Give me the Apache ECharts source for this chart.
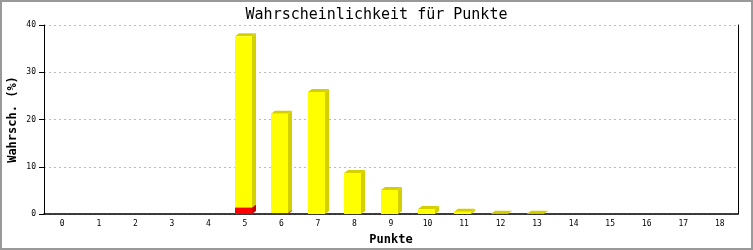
<!DOCTYPE html>
<html>
<head>
<meta charset="utf-8">
<script src="https://cdn.jsdelivr.net/npm/echarts@6/dist/echarts.min.js"></script>
<style>
html,body{margin:0;padding:0;background:#fff;}
#c{width:753px;height:250px;}
</style>
</head>
<body>
<div id="c"></div>
<script>
var categories = ['0','1','2','3','4','5','6','7','8','9','10','11','12','13','14','15','16','17','18'];
var redValues    = [0,0,0,0,0,1.4,0.2,0,0,0,0,0,0,0,0,0,0,0,0];
var yellowValues = [0,0,0,0,0,36.2,21.0,25.8,8.7,5.1,1.05,0.45,0.05,0.05,0,0,0,0,0];
var yTicks = [0,10,20,30,40];

var redData = categories.map(function(c,i){ return [i, 0, redValues[i]]; });
var yellowData = categories.map(function(c,i){ return [i, redValues[i], redValues[i]+yellowValues[i]]; });

function makeRender(front, dark){
  return function(params, api){
    var v0 = api.value(1), v1 = api.value(2);
    if (!(v1 > v0)) return null;
    var cat = api.value(0);
    var pTop = api.coord([cat, v1]);
    var pBot = api.coord([cat, v0]);
    var bw = 17, dx = 4, dy = 3;
    var x0 = Math.round(pTop[0] - 10), x1 = x0 + bw;
    var yT = pTop[1], yB = pBot[1];
    return {
      type: 'group',
      children: [
        {type:'polygon', shape:{points:[[x1,yT],[x1+dx,yT-dy],[x1+dx,yB-dy],[x1,yB]]}, style:{fill:dark}},
        {type:'polygon', shape:{points:[[x0,yT],[x0+dx,yT-dy],[x1+dx,yT-dy],[x1,yT]]}, style:{fill:dark}},
        {type:'rect', shape:{x:x0, y:yT, width:bw, height:Math.max(yB-yT,0)}, style:{fill:front}}
      ]
    };
  };
}

var chart = echarts.init(document.getElementById('c'), null, {renderer:'canvas'});
var mono = 'DejaVu Sans Mono';
chart.setOption({
  animation: false,
  backgroundColor: '#fff',
  title: {
    text: 'Wahrscheinlichkeit für Punkte',
    left: 'center', top: 3,
    textStyle: {fontFamily: mono, fontSize: 15, fontWeight: 'normal', color: '#000'}
  },
  grid: {left: 44, right: 15, top: 25, bottom: 36, outerBoundsMode: 'none', containLabel: false},
  xAxis: {
    type: 'category', data: categories,
    name: 'Punkte', nameLocation: 'middle', nameGap: 20,
    nameTextStyle: {fontFamily: mono, fontSize: 12, fontWeight: 'bold', color: '#000'},
    axisLine: {lineStyle: {color: '#000', width: 1.5}},
    axisTick: {show: false},
    axisLabel: {fontFamily: mono, fontSize: 8, color: '#000', margin: 6, interval: 0}
  },
  yAxis: [{
    type: 'value', min: yTicks[0], max: yTicks[yTicks.length-1], interval: 10,
    name: 'Wahrsch. (%)', nameLocation: 'middle', nameGap: 25, nameMoveOverlap: false,
    nameTextStyle: {fontFamily: mono, fontSize: 12, fontWeight: 'bold', color: '#000'},
    axisLine: {show: true, lineStyle: {color: '#000', width: 1}},
    axisTick: {show: true, length: 5, lineStyle: {color: '#000'}},
    axisLabel: {fontFamily: mono, fontSize: 8, color: '#000', margin: 8},
    splitLine: {show: true, lineStyle: {color: '#bbbbbb', type: [2,3], width: 1}}
  },{
    type: 'value', position: 'right', min: 0, max: 40, interval: 10,
    axisLine: {show: true, lineStyle: {color: '#000', width: 1}},
    axisTick: {show: false}, axisLabel: {show: false}, splitLine: {show: false}
  }],
  graphic: [{
    type: 'rect', shape: {x: 1, y: 1, width: 751, height: 248},
    style: {fill: 'none', stroke: '#999', lineWidth: 2}, silent: true
  }],
  series: [
    {type: 'custom', renderItem: makeRender('#ff0000', '#cc0000'), data: redData, encode:{x:0, y:[1,2]}},
    {type: 'custom', renderItem: makeRender('#ffff00', '#d4d000'), data: yellowData, encode:{x:0, y:[1,2]}}
  ]
});
</script>
</body>
</html>
